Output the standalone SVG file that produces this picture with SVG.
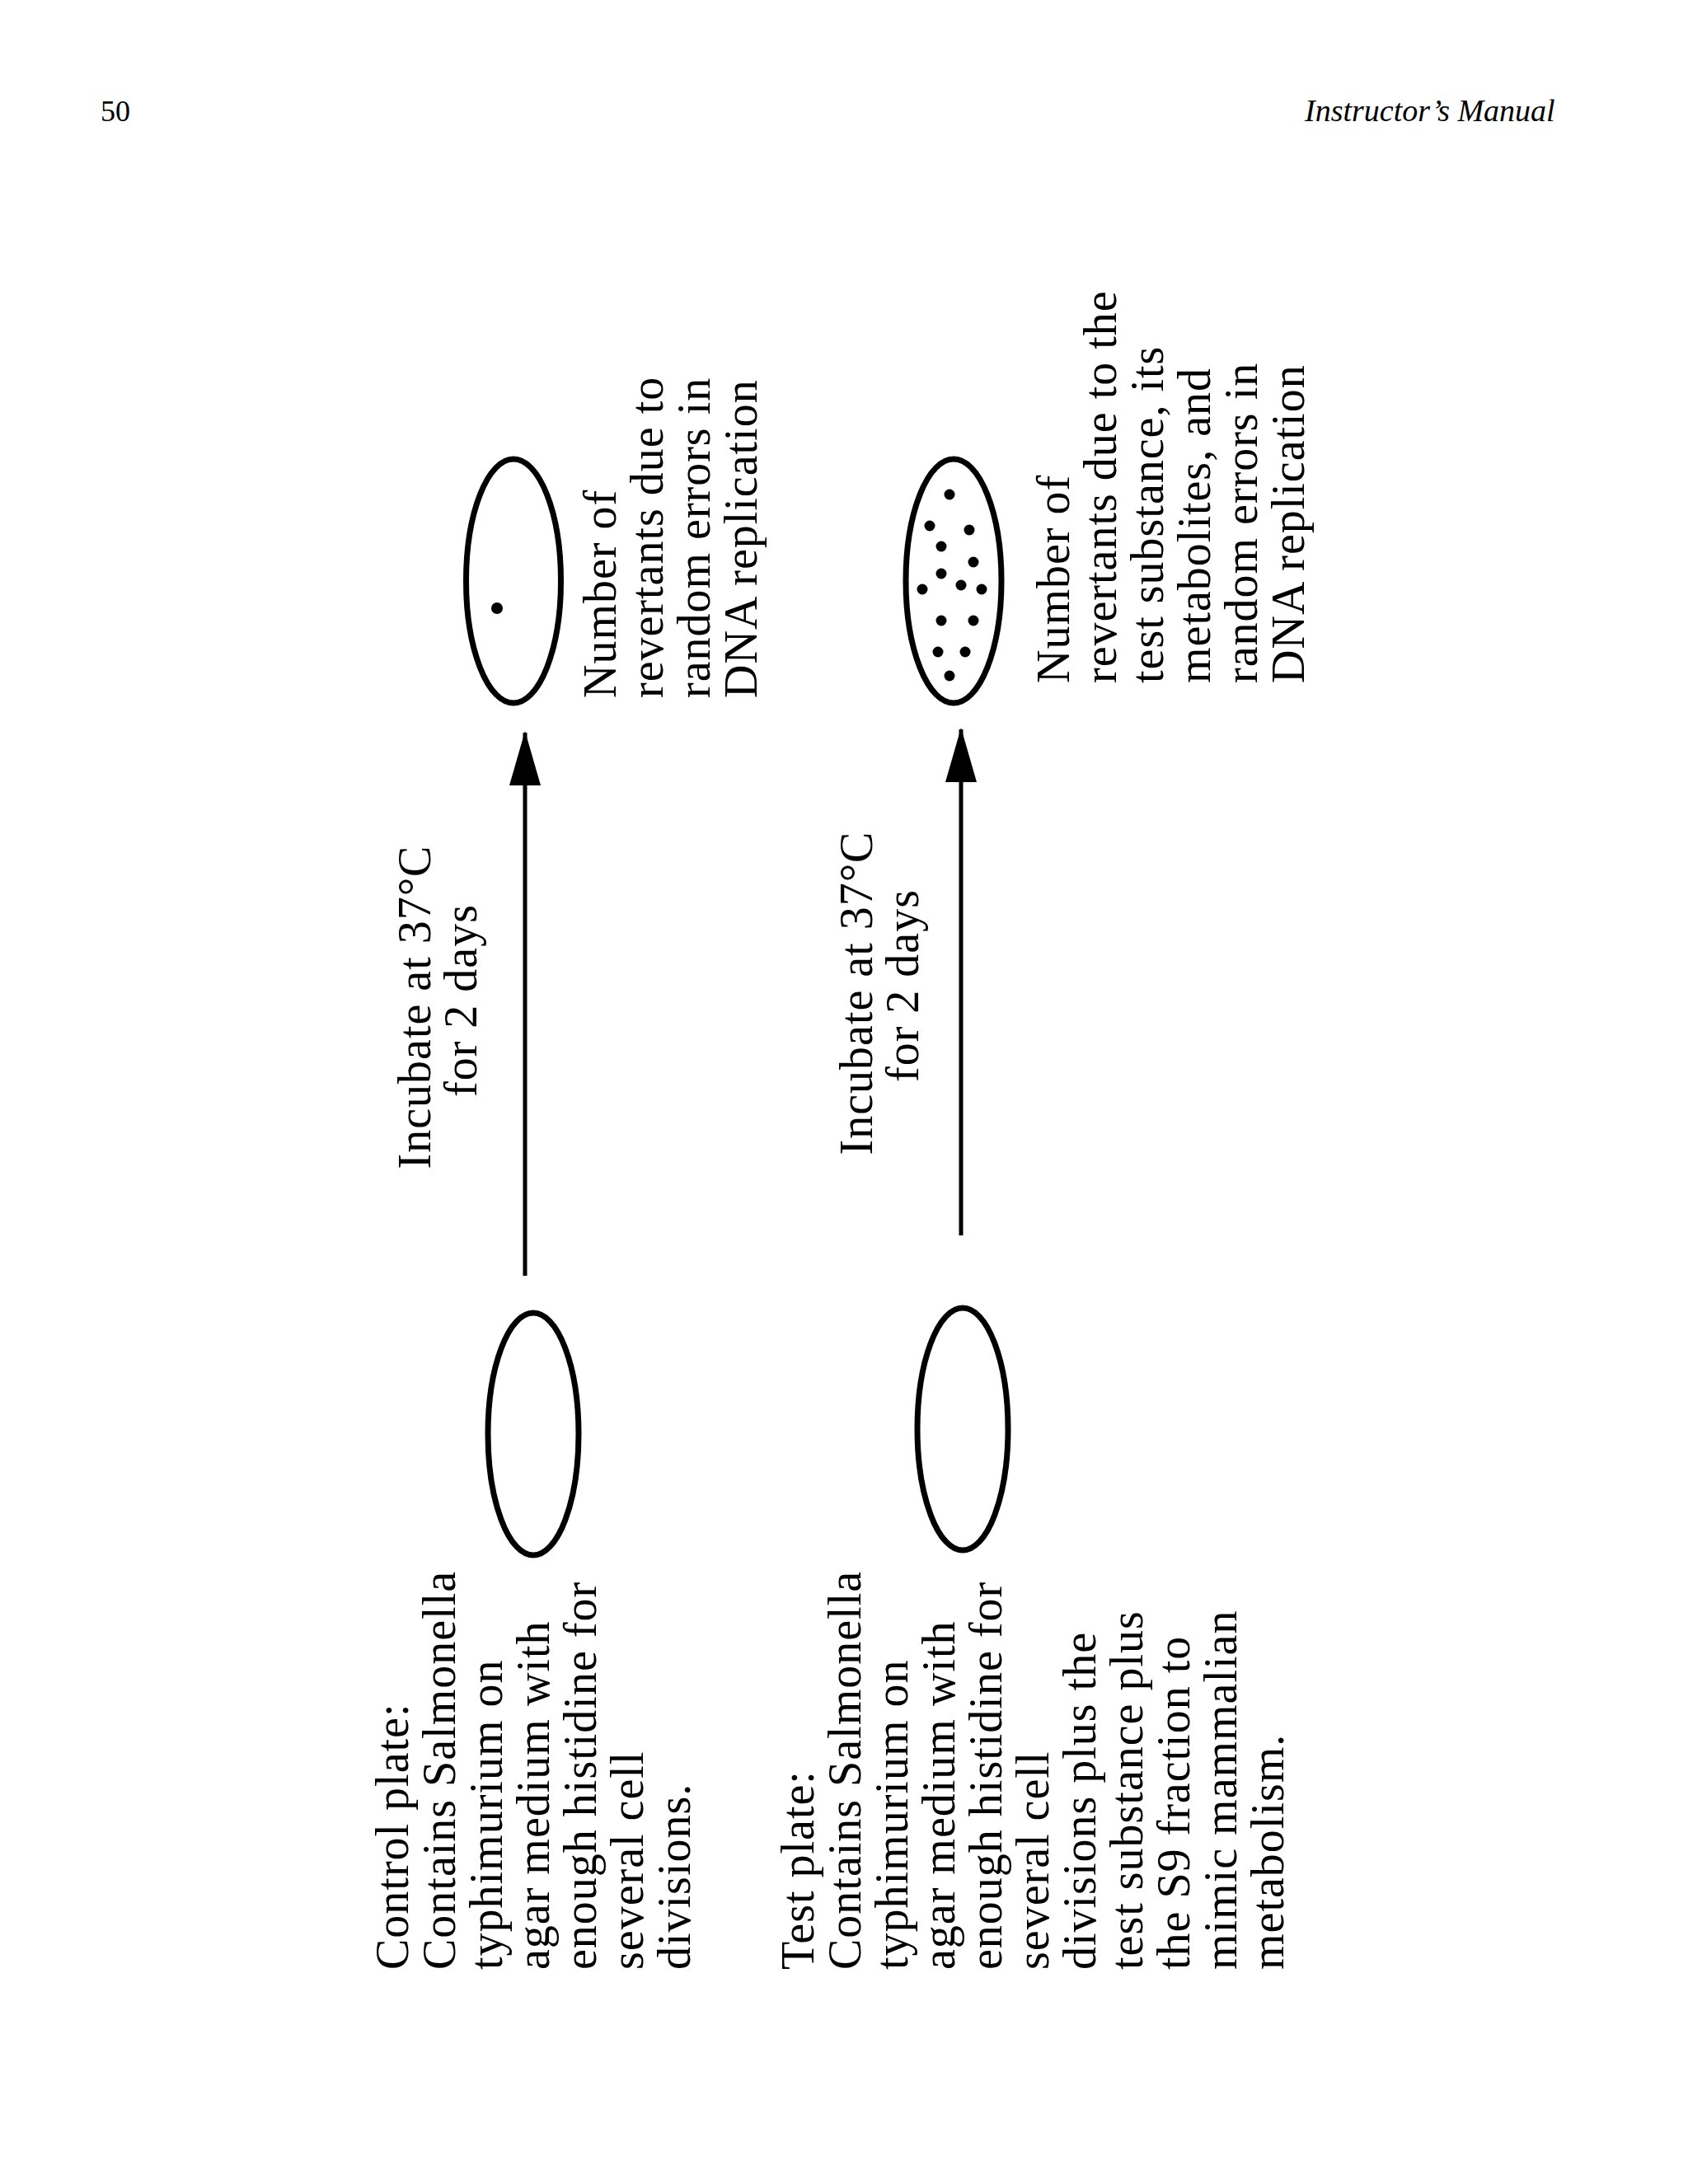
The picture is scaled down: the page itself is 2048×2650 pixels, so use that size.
<svg xmlns="http://www.w3.org/2000/svg" width="2048" height="2650" viewBox="0 0 2048 2650">
<style>
.t{font-family:"Liberation Serif","Times New Roman",serif;font-size:56px;letter-spacing:1px;fill:#000}
.hdr{font-family:"Liberation Serif","Times New Roman",serif;fill:#000}
.plate{fill:#fff;stroke:#000;stroke-width:7}
.dot{fill:#000}
.conn{stroke:#000;stroke-width:5;fill:none}
</style>
<defs>
<marker id="ah" markerUnits="userSpaceOnUse" markerWidth="66" markerHeight="38" refX="64" refY="19" orient="auto" viewBox="0 0 66 38">
<path d="M0,0 L66,19 L0,38 Z" fill="#000"/>
</marker>
</defs>
<rect width="2048" height="2650" fill="#fff"/>
<g id="header">
<text class="hdr" x="122" y="147" font-size="36">50</text>
<text class="hdr" x="1583" y="147" font-size="38" font-style="italic">Instructor’s Manual</text>
</g>

<g id="connectors">
<line class="conn" x1="637" y1="1548" x2="637" y2="889" marker-end="url(#ah)"/>
<line class="conn" x1="1166" y1="1499" x2="1166" y2="885" marker-end="url(#ah)"/>
</g>

<g id="control-start">
<ellipse class="plate" cx="647" cy="1740" rx="55" ry="147"/>
</g>
<g id="control-label">
<text class="t" transform="translate(495,2390) rotate(-90)"><tspan x="0" dy="0">Control plate:</tspan><tspan x="0" dy="57">Contains Salmonella</tspan><tspan x="0" dy="57">typhimurium on</tspan><tspan x="0" dy="57">agar medium with</tspan><tspan x="0" dy="57">enough histidine for</tspan><tspan x="0" dy="57">several cell</tspan><tspan x="0" dy="57">divisions.</tspan></text>
</g>
<g id="control-incubate">
<text class="t" text-anchor="middle" transform="translate(522,1222) rotate(-90)"><tspan x="0" dy="0">Incubate at 37°C</tspan><tspan x="8" dy="56">for 2 days</tspan></text>
</g>
<g id="control-result">
<ellipse class="plate" cx="623" cy="705" rx="57.5" ry="148"/>
<circle class="dot" cx="603" cy="738" r="7"/>
</g>
<g id="control-result-label">
<text class="t" transform="translate(747,847) rotate(-90)"><tspan x="0" dy="0">Number of</tspan><tspan x="0" dy="57">revertants due to</tspan><tspan x="0" dy="57">random errors in</tspan><tspan x="0" dy="57">DNA replication</tspan></text>
</g>

<g id="test-start">
<ellipse class="plate" cx="1168" cy="1734" rx="55" ry="147"/>
</g>
<g id="test-label">
<text class="t" transform="translate(987,2390) rotate(-90)"><tspan x="0" dy="0">Test plate:</tspan><tspan x="0" dy="57">Contains Salmonella</tspan><tspan x="0" dy="57">typhimurium on</tspan><tspan x="0" dy="57">agar medium with</tspan><tspan x="0" dy="57">enough histidine for</tspan><tspan x="0" dy="57">several cell</tspan><tspan x="0" dy="57">divisions plus the</tspan><tspan x="0" dy="57">test substance plus</tspan><tspan x="0" dy="57">the S9 fraction to</tspan><tspan x="0" dy="57">mimic mammalian</tspan><tspan x="0" dy="57">metabolism.</tspan></text>
</g>
<g id="test-incubate">
<text class="t" text-anchor="middle" transform="translate(1058,1205) rotate(-90)"><tspan x="0" dy="0">Incubate at 37°C</tspan><tspan x="9" dy="56">for 2 days</tspan></text>
</g>
<g id="test-result">
<ellipse class="plate" cx="1157" cy="705" rx="58" ry="148"/>
<circle class="dot" cx="1152" cy="600" r="6.5"/>
<circle class="dot" cx="1128" cy="638" r="6.5"/>
<circle class="dot" cx="1176" cy="643" r="6.5"/>
<circle class="dot" cx="1142" cy="663" r="6.5"/>
<circle class="dot" cx="1181" cy="682" r="6.5"/>
<circle class="dot" cx="1142" cy="696" r="6.5"/>
<circle class="dot" cx="1119" cy="715" r="6.5"/>
<circle class="dot" cx="1166" cy="710" r="6.5"/>
<circle class="dot" cx="1191" cy="715" r="6.5"/>
<circle class="dot" cx="1142" cy="753" r="6.5"/>
<circle class="dot" cx="1181" cy="753" r="6.5"/>
<circle class="dot" cx="1138" cy="791" r="6.5"/>
<circle class="dot" cx="1171" cy="791" r="6.5"/>
<circle class="dot" cx="1152" cy="820" r="6.5"/>
</g>
<g id="test-result-label">
<text class="t" transform="translate(1297,829) rotate(-90)"><tspan x="0" dy="0">Number of</tspan><tspan x="0" dy="57">revertants due to the</tspan><tspan x="0" dy="57">test substance, its</tspan><tspan x="0" dy="57">metabolites, and</tspan><tspan x="0" dy="57">random errors in</tspan><tspan x="0" dy="57">DNA replication</tspan></text>
</g>
</svg>
